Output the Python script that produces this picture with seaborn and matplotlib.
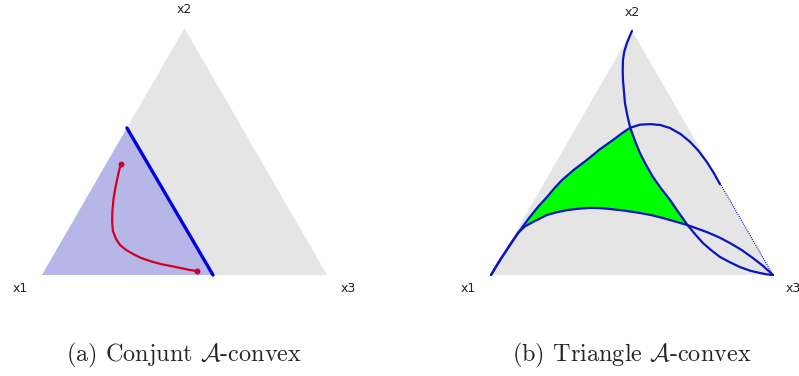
import numpy as np
import matplotlib
matplotlib.use("Agg")
import matplotlib.pyplot as plt
import seaborn as sns

sns.set_style("white")
plt.rcParams['font.family'] = ['DejaVu Sans']
plt.rcParams['mathtext.fontset'] = 'cm'

H = np.sqrt(3) / 2
# triangle vertices (normalized simplex coordinates)
tri_u = [0.0, 0.5, 1.0]
tri_v = [0.0, H, 0.0]
vertex_labels = ["x1", "x2", "x3"]

# ---- panel (a) ----
cut_u = [0.298, 0.60]          # blue line endpoints
cut_v = [0.516, 0.0]
red_u = [0.276, 0.267, 0.258, 0.251, 0.247, 0.246, 0.249, 0.260, 0.274, 0.295, 0.319, 0.347, 0.379, 0.414, 0.449, 0.484, 0.516, 0.543]
red_v = [0.389, 0.351, 0.309, 0.267, 0.225, 0.186, 0.154, 0.126, 0.105, 0.088, 0.074, 0.060, 0.049, 0.039, 0.032, 0.025, 0.018, 0.014]

# ---- panel (b) ----
A_u = [0.500, 0.482, 0.472, 0.468, 0.467, 0.468, 0.475, 0.483, 0.493, 0.510, 0.528, 0.550, 0.574, 0.603, 0.635, 0.665, 0.697, 0.725, 0.752, 0.782, 0.812, 0.848, 0.883, 0.920, 0.954, 0.980, 1.000]
A_v = [0.866, 0.823, 0.790, 0.762, 0.725, 0.691, 0.610, 0.568, 0.525, 0.477, 0.433, 0.390, 0.348, 0.307, 0.266, 0.222, 0.177, 0.143, 0.113, 0.087, 0.064, 0.045, 0.028, 0.015, 0.007, 0.002, 0.000]
C_u = [0.000, 0.032, 0.067, 0.096, 0.120, 0.149, 0.199, 0.235, 0.270, 0.310, 0.351, 0.390, 0.422, 0.475, 0.528, 0.570, 0.610, 0.652, 0.697, 0.730, 0.766, 0.808, 0.848, 0.890, 0.929, 0.965, 1.000]
C_v = [0.000, 0.053, 0.106, 0.149, 0.172, 0.188, 0.213, 0.223, 0.230, 0.235, 0.238, 0.237, 0.234, 0.228, 0.220, 0.212, 0.202, 0.190, 0.177, 0.165, 0.152, 0.134, 0.113, 0.088, 0.060, 0.032, 0.000]
B_u = [0.000, 0.032, 0.067, 0.096, 0.117, 0.138, 0.168, 0.199, 0.225, 0.252, 0.295, 0.340, 0.385, 0.433, 0.465, 0.493, 0.528, 0.564, 0.600, 0.635, 0.672, 0.706, 0.736, 0.766, 0.790, 0.812]
B_v = [0.000, 0.053, 0.106, 0.149, 0.178, 0.206, 0.243, 0.277, 0.308, 0.337, 0.374, 0.408, 0.445, 0.479, 0.503, 0.522, 0.533, 0.535, 0.532, 0.521, 0.500, 0.472, 0.440, 0.400, 0.362, 0.322]
Bedge_u = [0.812, 0.848, 0.894, 0.943, 0.979, 1.000]

captions = [r"(a) Conjunt $\mathcal{A}$-convex", r"(b) Triangle $\mathcal{A}$-convex"]

fig = plt.figure(figsize=(7.99, 3.76), dpi=100)
W, Hpx = 799, 376
axL = fig.add_axes([0, 76 / Hpx, 400 / W, 300 / Hpx])
axR = fig.add_axes([400 / W, 76 / Hpx, 399 / W, 300 / Hpx])
axL.set_xlim(-42 / 285, 358 / 285)
axL.set_ylim(-25 / 285, 275 / 285)
axR.set_xlim(-91 / 282, 308 / 282)
axR.set_ylim(-25 / 282, 275 / 282)

gray = "#e5e5e5"
for ax in (axL, axR):
    ax.set_axis_off()
    ax.fill(tri_u, tri_v, color=gray, lw=0, zorder=1)

offs = {
    axL: [(-0.078, -0.046), (0.0, 0.066), (0.074, -0.046)],
    axR: [(-0.080, -0.048), (0.0, 0.066), (0.071, -0.048)],
}
for ax, lab_off in offs.items():
    for (u, v, t, (ox, oy)) in zip(tri_u, tri_v, vertex_labels, lab_off):
        ax.text(u + ox, v + oy, t, ha="center", va="center", fontsize=9,
                color="#222222", clip_on=False)

# panel (a)
axL.fill([tri_u[0], cut_u[0], cut_u[1]], [tri_v[0], cut_v[0], cut_v[1]],
         color="#b6b7e8", lw=0, zorder=2)
sns.lineplot(x=cut_u, y=cut_v, ax=axL, color="#0000e6", lw=2.4, sort=False,
             estimator=None, zorder=4)
sns.lineplot(x=red_u, y=red_v, ax=axL, color="#d40020", lw=1.6, sort=False,
             estimator=None, zorder=5)
axL.scatter([red_u[0], red_u[-1]], [red_v[0], red_v[-1]], s=18, color="#c8002a",
            zorder=6, lw=0)

# panel (b): green region bounded by B (to A crossing), A (to C crossing), C back
iB0, iB1 = 3, 15
iA0, iA1 = 8, 16
iC0, iC1 = 3, 18
g_u = B_u[iB0:iB1 + 1] + A_u[iA0:iA1 + 1] + C_u[iC0:iC1 + 1][::-1]
g_v = B_v[iB0:iB1 + 1] + A_v[iA0:iA1 + 1] + C_v[iC0:iC1 + 1][::-1]
axR.fill(g_u, g_v, color="#00ff00", lw=0, zorder=2)

blue = "#0a14c0"
for cu, cv in ((A_u, A_v), (C_u, C_v), (B_u, B_v)):
    sns.lineplot(x=cu, y=cv, ax=axR, color=blue, lw=1.6, sort=False,
                 estimator=None, zorder=4)
Bedge_v = [(1 - u) * np.sqrt(3) for u in Bedge_u]
axR.plot(Bedge_u, Bedge_v, color=blue, lw=0.8, ls=(0, (1, 1)), zorder=4)

fig.text(184 / W, 1 - 355 / Hpx, captions[0], ha="center", va="center",
         fontsize=17.5, family="cmr10")
fig.text(632 / W, 1 - 355 / Hpx, captions[1], ha="center", va="center",
         fontsize=17.5, family="cmr10")

fig.savefig("out.png", dpi=100)
